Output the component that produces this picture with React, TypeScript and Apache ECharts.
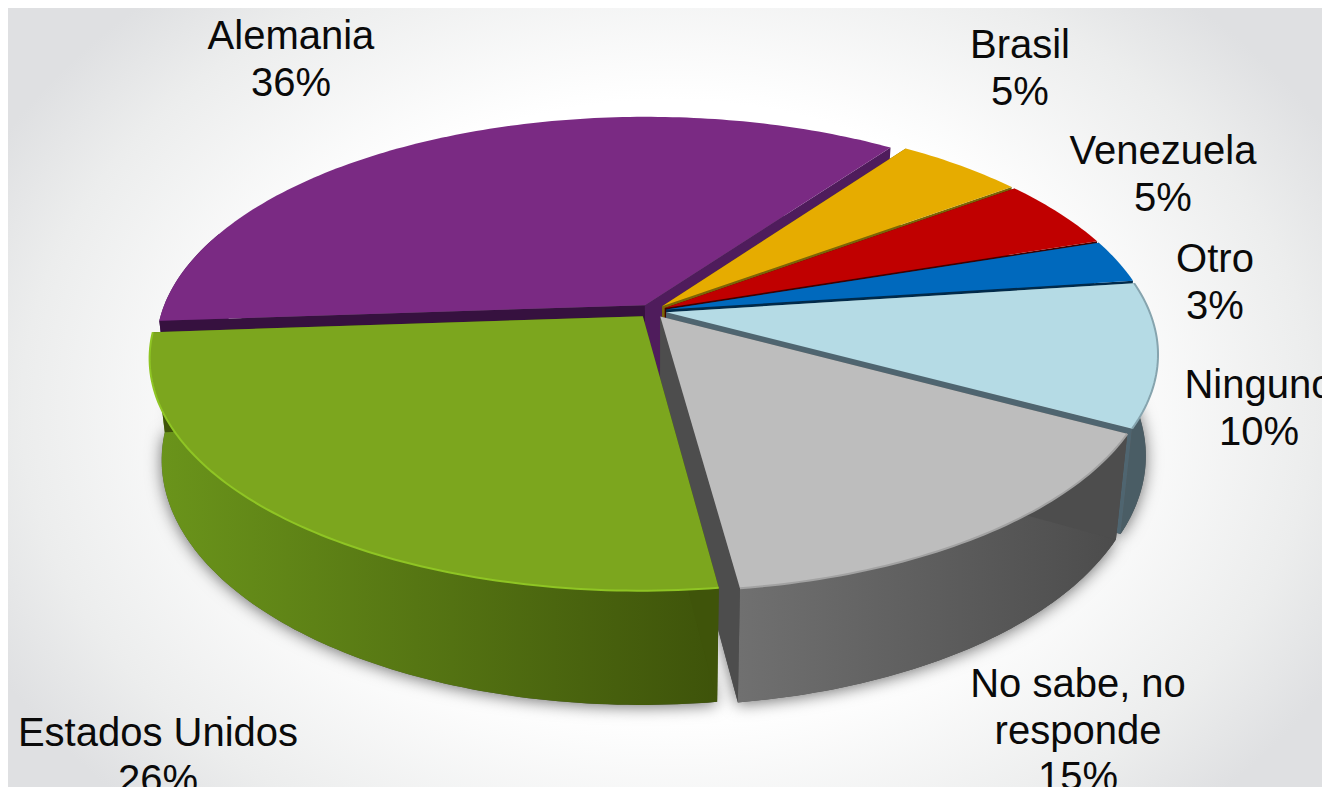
import React, { useEffect, useRef } from "react";
import * as echarts from "echarts";

const categories = ["Alemania", "Brasil", "Venezuela", "Otro", "Ninguno", "No sabe, no\nresponde", "Estados Unidos"];
const values = [36, 5, 5, 3, 10, 15, 26];

// Styling and layout, one entry per slice
const topColors = ["#7a2a83", "#e6ac00", "#c00000", "#0069bd", "#b5dbe5", "#bdbdbd", "#7ca61e"];
const startWallColors = ["#36113f", "#6f5a00", "#5a0000", "#00325a", "#4f6770", "#4d4d4d", "#3f540a"];
const endWallColors = ["#4f1c5c", "#7a6508", "#400000", "#002a4a", "#4f6570", "#4d4d4d", "#3f540a"];
const rimHighlights = ["", "", "", "", "#86a4ae", "#a2a2a2", "#8fc524"];
const wallStops = [
  ["#4f1c5c", "#4f1c5c"],
  ["#7a6508", "#7a6508"],
  ["#5a0000", "#5a0000"],
  ["#00325a", "#00325a"],
  ["#4d6169", "#4a5d65"],
  ["#707070", "#4b4b4b"],
  ["#6b951b", "#3e530a"],
];
const labelX = [283, 1012, 1155, 1207, 1251, 1070, 150];
const labelY = [4, 13, 119, 227, 353, 652, 701];

// Projection of the tilted, exploded pie
const CX = 644;
const CY = 303;
const RX = 483;
const RY = 223.7;
const PERSPECTIVE = 0.1775;
const EXPLODE = 0.03;
const START_ANGLE = 176;
const HEIGHT = 99;
const BOTTOM_SCALE = 0.976;
const LINE_HEIGHT = 46.5;

const total = values.reduce((a, b) => a + b, 0);
const rad = (d: number) => (d * Math.PI) / 180;

function spanOf(index: number) {
  let a0 = START_ANGLE;
  for (let i = 0; i < index; i++) a0 += (values[i] / total) * 360;
  return [a0, a0 + (values[index] / total) * 360];
}

function project(index: number, radius: number, angle: number, bottom: boolean) {
  const [a0, a1] = spanOf(index);
  const mid = rad((a0 + a1) / 2);
  const x = radius * Math.cos(rad(angle)) + EXPLODE * Math.cos(mid);
  const y = radius * Math.sin(rad(angle)) + EXPLODE * Math.sin(mid);
  const den = 1 - PERSPECTIVE * y;
  const sx = (RX * x) / den;
  const sy = (RY * y) / den;
  if (!bottom) return [CX + sx, CY + sy];
  return [CX + BOTTOM_SCALE * sx, CY + BOTTOM_SCALE * sy + HEIGHT / den];
}

function arc(index: number, bottom: boolean, from?: number, to?: number) {
  const [a0, a1] = spanOf(index);
  const s = from ?? a0;
  const e = to ?? a1;
  const n = Math.max(2, Math.ceil(Math.abs(e - s)));
  const pts: number[][] = [];
  for (let i = 0; i <= n; i++) pts.push(project(index, 1, s + ((e - s) * i) / n, bottom));
  return pts;
}

function wallAt(index: number, angle: number) {
  return [
    project(index, 0, angle, false),
    project(index, 1, angle, false),
    project(index, 1, angle, true),
    project(index, 0, angle, true),
  ];
}

function renderShadow(params: any) {
  const i = params.dataIndex;
  return {
    type: "polygon",
    silent: true,
    shape: { points: [project(i, 0, 0, true), ...arc(i, true)] },
    style: {
      fill: "#555",
      shadowBlur: 16,
      shadowColor: "rgba(0,0,0,0.55)",
      shadowOffsetY: 2,
    },
  };
}

function renderSlice(params: any) {
  const i = params.dataIndex;
  const [a0, a1] = spanOf(i);
  const children: any[] = [];
  const xs = arc(i, false).map((p) => p[0]);
  const fillWall = {
    type: "linear",
    x: Math.min(...xs),
    y: 0,
    x2: Math.max(...xs),
    y2: 0,
    global: true,
    colorStops: [
      { offset: 0, color: wallStops[i][i === 5 ? 0 : 1] },
      { offset: 1, color: wallStops[i][i === 5 ? 1 : 1] },
    ],
  };
  if (i === 6) {
    fillWall.colorStops = [
      { offset: 1, color: wallStops[i][0] },
      { offset: 0, color: wallStops[i][1] },
    ].reverse();
    fillWall.colorStops = [
      { offset: 0, color: wallStops[i][0] },
      { offset: 1, color: wallStops[i][1] },
    ];
  }
  // The outer wall is only seen on the front half of the pie
  const from = Math.max(a0, 345);
  const wallRanges: number[][] = [];
  if (a1 > 360) wallRanges.push([from, a1]);
  else if (a0 < 200) wallRanges.push([a0, Math.min(a1, 200)]);
  for (const [s, e] of wallRanges) {
    children.push({
      type: "polygon",
      shape: { points: [...arc(i, false, s, e), ...arc(i, true, s, e).reverse()] },
      style: { fill: fillWall },
    });
  }
  children.push({ type: "polygon", shape: { points: wallAt(i, a0) }, style: { fill: startWallColors[i] } });
  children.push({ type: "polygon", shape: { points: wallAt(i, a1) }, style: { fill: endWallColors[i] } });
  children.push({
    type: "polygon",
    shape: { points: [project(i, 0, 0, false), ...arc(i, false)] },
    style: { fill: topColors[i] },
  });
  if (rimHighlights[i]) {
    children.push({
      type: "polyline",
      shape: { points: arc(i, false) },
      style: { fill: "none", stroke: rimHighlights[i], lineWidth: 2 },
    });
  }
  return { type: "group", children };
}

function renderLabel(params: any) {
  const i = params.dataIndex;
  return {
    type: "text",
    silent: true,
    style: {
      x: labelX[i],
      y: labelY[i],
      text: `${categories[i]}\n${values[i]}%`,
      align: "center",
      verticalAlign: "top",
      fill: "#0a0a0a",
      fontFamily: "Liberation Sans",
      fontSize: 40,
      lineHeight: LINE_HEIGHT,
    },
  };
}

export default function App() {
  const ref = useRef<HTMLDivElement>(null);
  useEffect(() => {
    const chart = echarts.init(ref.current!, undefined, { renderer: "svg" });
    const data = categories.map((name, i) => ({ name, value: values[i] }));
    chart.setOption({
      animation: false,
      tooltip: { show: false },
      series: [
        { type: "custom", coordinateSystem: "none", z: 1, data, renderItem: renderShadow, silent: true },
        { type: "custom", coordinateSystem: "none", z: 2, data, renderItem: renderSlice, silent: true },
        { type: "custom", coordinateSystem: "none", z: 3, data, renderItem: renderLabel, silent: true },
      ],
    });
    return () => chart.dispose();
  }, []);
  return (
    <div
      ref={ref}
      style={{
        position: "fixed",
        left: 0,
        top: 0,
        width: 1330,
        height: 787,
        background: "radial-gradient(ellipse 760px 560px at 660px 400px, #ffffff 55%, #eceded 85%, #dfe0e2 100%)",
      }}
    />
  );
}
